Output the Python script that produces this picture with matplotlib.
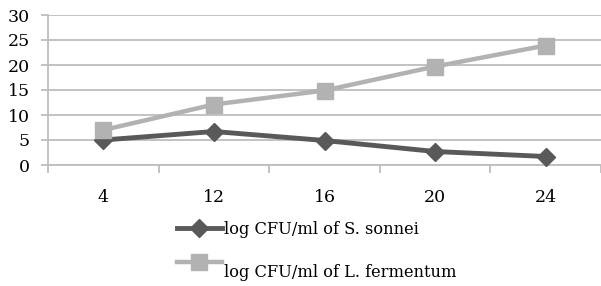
import matplotlib
matplotlib.use("Agg")
import matplotlib.pyplot as plt
from matplotlib.lines import Line2D

categories = ["4", "12", "16", "20", "24"]
s_sonnei = [5.0, 6.7, 4.9, 2.7, 1.7]
l_fermentum = [7.0, 12.1, 14.9, 19.7, 23.9]
labels = ["log CFU/ml of S. sonnei", "log CFU/ml of L. fermentum"]
yticks = [0, 5, 10, 15, 20, 25, 30]

plt.rcParams['font.family'] = ['DejaVu Serif']

fig = plt.figure(figsize=(6.01, 2.86), dpi=100)
ax = fig.add_axes([48/601, 1-165/286, 1-48/601, 150/286])

x = list(range(len(categories)))
dark = "#595959"
light = "#b2b2b2"
ax.plot(x, s_sonnei, color=dark, lw=3.5, marker="D", ms=9, zorder=3, clip_on=False)
ax.plot(x, l_fermentum, color=light, lw=3.2, marker="s", ms=11, zorder=3, clip_on=False)

ax.set_xlim(-0.5, len(categories) - 0.5)
ax.set_ylim(0, 30)
ax.set_yticks(yticks)
ax.set_yticklabels([str(v) for v in yticks], fontsize=12.5)
ax.yaxis.grid(True, color="#bdbdbd", lw=1.3)
ax.set_axisbelow(True)

ax.set_xticks([i - 0.5 for i in range(len(categories) + 1)])
ax.set_xticklabels([])
ax.set_xticks(x, minor=True)
ax.set_xticklabels(categories, minor=True, fontsize=12.5)
ax.tick_params(axis="x", which="major", length=6, width=1.3, color="#bdbdbd", direction="out")
ax.tick_params(axis="x", which="minor", length=0, pad=17)
ax.tick_params(axis="y", length=5, width=1.3, color="#bdbdbd", pad=8)

for s in ["top", "right"]:
    ax.spines[s].set_visible(False)
for s in ["left", "bottom"]:
    ax.spines[s].set_color("#bdbdbd")
    ax.spines[s].set_linewidth(1.3)

handles = [Line2D([], [], color=dark, lw=3.5, marker="D", ms=9),
           Line2D([], [], color=light, lw=3.2, marker="s", ms=11)]
leg = fig.legend(handles, labels, loc="upper left", bbox_to_anchor=(177/601, 1-221/286),
                 frameon=False, fontsize=11.7, handlelength=2.75, handletextpad=0.12,
                 labelspacing=1.05, borderpad=0, borderaxespad=0)
leg.get_texts()[1].set_y(-9)

fig.savefig("out.png", dpi=100)
